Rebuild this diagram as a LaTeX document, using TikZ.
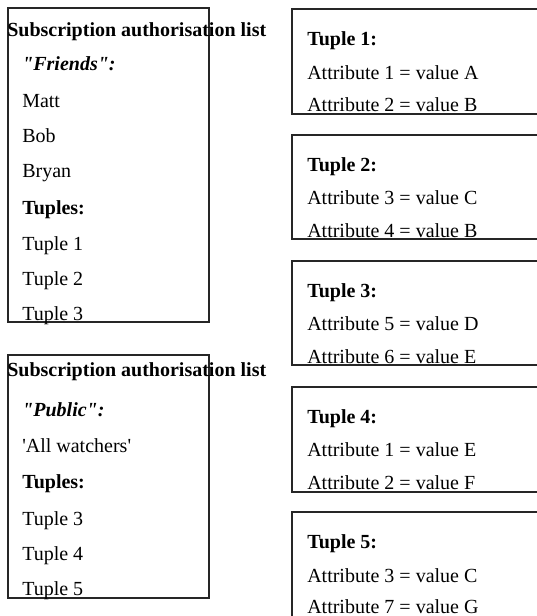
\documentclass[tikz,border=0pt]{standalone}
\usepackage{fontspec}
% plain ASCII quotes stay straight
\setmainfont{Liberation Serif}[Ligatures=TeXReset]
\begin{document}
\begin{tikzpicture}[x=0.75pt,y=-0.75pt,
  txt/.style={anchor=base west,inner sep=0pt,font=\fontsize{15}{18}\selectfont},
  hdr/.style={txt,font=\fontsize{15}{18}\selectfont\bfseries},
  grp/.style={txt,font=\fontsize{15}{18}\selectfont\bfseries\itshape},
  frame/.style={draw=black!85,line width=0.8pt}]
\useasboundingbox (0,0) rectangle (536,616);

% left: authorisation lists
\draw[frame] (8,8) rectangle (209,322);
\node[hdr] (l1h) at (7,37) {Subscription authorisation list};
\node[grp] (l1g) at (22,71) {"Friends":};
\node[txt] (l1a) at (22,108) {Matt};
\node[txt] (l1b) at (22,143) {Bob};
\node[txt] (l1c) at (22,178) {Bryan};
\node[hdr] (l1t) at (22,215) {Tuples:};
\node[txt] (l1t1) at (22,250) {Tuple 1};
\node[txt] (l1t2) at (22,285) {Tuple 2};
\node[txt] (l1t3) at (22,320) {Tuple 3};

\draw[frame] (8,355) rectangle (209,598);
\node[hdr] (l2h) at (7,376) {Subscription authorisation list};
\node[grp] (l2g) at (22,416) {"Public":};
\node[txt] (l2a) at (22,452) {'All watchers'};
\node[hdr] (l2t) at (22,488) {Tuples:};
\node[txt] (l2t3) at (22,525) {Tuple 3};
\node[txt] (l2t4) at (22,560) {Tuple 4};
\node[txt] (l2t5) at (22,595) {Tuple 5};

% right: tuples (boxes run off the right edge)
\draw[frame] (537,9) -- (292,9) -- (292,114) -- (537,114);
\node[hdr] (t1) at (307,46) {Tuple 1:};
\node[txt] (t1a) at (307,80) {Attribute 1 = value A};
\node[txt] (t1b) at (307,112) {Attribute 2 = value B};

\draw[frame] (537,135) -- (292,135) -- (292,239) -- (537,239);
\node[hdr] (t2) at (307,172) {Tuple 2:};
\node[txt] (t2a) at (307,205) {Attribute 3 = value C};
\node[txt] (t2b) at (307,238) {Attribute 4 = value B};

\draw[frame] (537,261) -- (292,261) -- (292,365) -- (537,365);
\node[hdr] (t3) at (307,297) {Tuple 3:};
\node[txt] (t3a) at (307,330) {Attribute 5 = value D};
\node[txt] (t3b) at (307,363) {Attribute 6 = value E};

\draw[frame] (537,387) -- (292,387) -- (292,492) -- (537,492);
\node[hdr] (t4) at (307,423) {Tuple 4:};
\node[txt] (t4a) at (307,456) {Attribute 1 = value E};
\node[txt] (t4b) at (307,489) {Attribute 2 = value F};

\draw[frame] (537,512) -- (292,512) -- (292,617);
\node[hdr] (t5) at (307,548) {Tuple 5:};
\node[txt] (t5a) at (307,582) {Attribute 3 = value C};
\node[txt] (t5b) at (307,613) {Attribute 7 = value G};
\end{tikzpicture}
\end{document}
